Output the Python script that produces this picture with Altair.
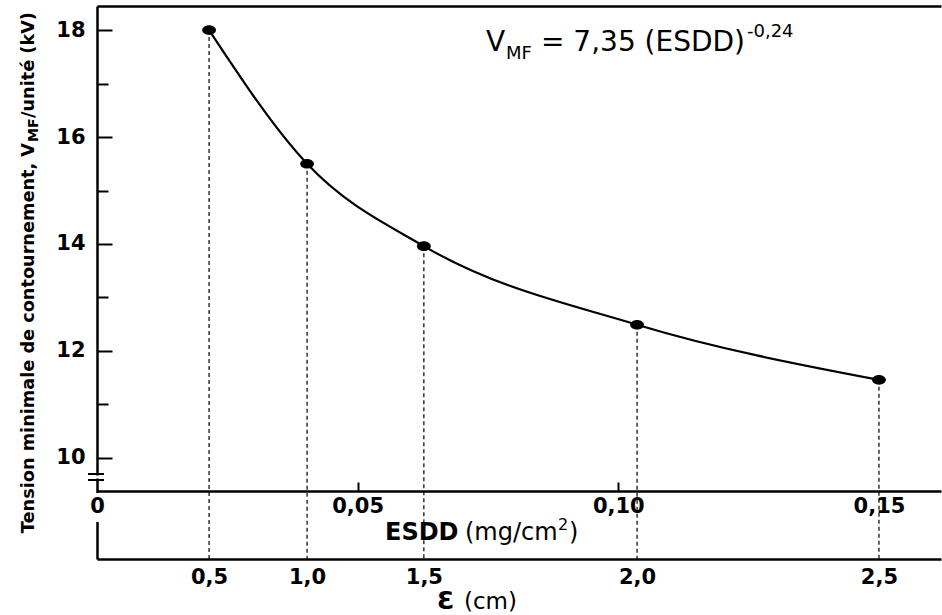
import altair as alt
import pandas as pd

# ---- data ----
eps_cm = [0.5, 1.0, 1.5, 2.0, 2.5]
eps_labels = ["0,5", "1,0", "1,5", "2,0", "2,5"]
esdd = [0.0215, 0.0403, 0.0627, 0.1036, 0.150]
v_mf = [18.0, 15.50, 13.96, 12.49, 11.46]
esdd_ticks = [0, 0.05, 0.10, 0.15]
esdd_tick_labels = ["0", "0,05", "0,10", "0,15"]
esdd_inner_ticks = [0.05, 0.10]
y_major = [10, 12, 14, 16, 18]
y_minor = [11, 13, 15, 17]

W, H = 844, 553
X_DOM = [0, 0.1619]
Y_DOM = [8.11, 18.45]
ESDD_AXIS_OFFSET = -68

LAB_FONT = "DejaVu Sans"
TXT_FONT = "DejaVu Sans"
TITLE_FONT = "DejaVu Sans"

df = pd.DataFrame({"esdd": esdd, "v": v_mf, "eps": eps_cm})
one = pd.DataFrame({"k": [0]})

xs = alt.Scale(domain=X_DOM, nice=False, zero=False)
ys = alt.Scale(domain=Y_DOM, nice=False, zero=False)


def label_expr(values, labels):
    expr = "'" + labels[-1] + "'"
    for i in range(len(values) - 2, -1, -1):
        mid = (values[i] + values[i + 1]) / 2
        expr = "datum.value < %g ? '%s' : (%s)" % (mid, labels[i], expr)
    return expr


lab = dict(labelFont=LAB_FONT, labelFontSize=21, labelFontWeight="bold",
           labelColor="black", labelFlush=False, labelOverlap=False,
           labelBound=False, grid=False, title=None)

# curve + ESDD axis + left labelled axis
curve = alt.Chart(df).mark_line(interpolate="monotone", color="black", strokeWidth=2.2).encode(
    x=alt.X("esdd:Q", scale=xs, axis=alt.Axis(
        orient="bottom", offset=ESDD_AXIS_OFFSET, values=esdd_ticks,
        labelExpr=label_expr(esdd_ticks, esdd_tick_labels), ticks=False, tickSize=0,
        domainColor="black", domainWidth=2.5, labelPadding=4, zindex=1, **lab)),
    y=alt.Y("v:Q", scale=ys, axis=alt.Axis(
        orient="left", values=y_major, format="d", ticks=False, tickSize=0,
        domainColor="black", domainWidth=2.5, labelPadding=12, **lab)),
)

# points + top border + inward major ticks
points = alt.Chart(df).mark_point(
    filled=True, opacity=1, color="black", size=190,
    shape="M-1,0A1,0.7,0,1,0,1,0A1,0.7,0,1,0,-1,0Z").encode(
    x=alt.X("esdd:Q", scale=xs, axis=alt.Axis(
        orient="top", labels=False, ticks=False, tickSize=0,
        domainColor="black", domainWidth=2.5, grid=False, title=None)),
    y=alt.Y("v:Q", scale=ys, axis=alt.Axis(
        orient="right", offset=-W, values=y_major, labels=False, domain=False,
        tickSize=15, tickWidth=2, tickColor="black", grid=False, title=None)),
)

# dashed drop lines + epsilon axis + inward minor ticks
drops = alt.Chart(df).mark_rule(strokeDash=[4, 3], strokeWidth=1.2, color="black").encode(
    x=alt.X("esdd:Q", scale=xs, axis=alt.Axis(
        orient="bottom", offset=0, values=esdd,
        labelExpr=label_expr(esdd, eps_labels), ticks=False, tickSize=0,
        domainColor="black", domainWidth=2.5, labelPadding=7, **lab)),
    y=alt.Y("v:Q", scale=ys, axis=alt.Axis(
        orient="right", offset=-W, values=y_minor, labels=False, domain=False,
        tickSize=11, tickWidth=2, tickColor="black", grid=False, title=None)),
    y2=alt.value(H),
)

# upward ticks on the ESDD axis
esdd_ticks_layer = alt.Chart(df).mark_point(opacity=0).encode(
    x=alt.X("esdd:Q", scale=xs, axis=alt.Axis(
        orient="top", offset=-(H + ESDD_AXIS_OFFSET), values=esdd_inner_ticks,
        labels=False, domain=False, tickSize=9, tickWidth=2, tickColor="black",
        grid=False, title=None)),
)

# axis break and gap on the left axis
mask_gap = alt.Chart(one).mark_rect(color="white").encode(
    x=alt.value(-10), x2=alt.value(8), y=alt.value(487), y2=alt.value(516))
mask_break = alt.Chart(one).mark_rect(color="white").encode(
    x=alt.value(-5), x2=alt.value(5), y=alt.value(469.5), y2=alt.value(472.5))
break1 = alt.Chart(one).mark_rule(color="black", strokeWidth=2).encode(
    x=alt.value(-9), x2=alt.value(7), y=alt.value(468))
break2 = alt.Chart(one).mark_rule(color="black", strokeWidth=2).encode(
    x=alt.value(-9), x2=alt.value(7), y=alt.value(474))


def txt(s, x, y, size, weight="normal", font=TXT_FONT, angle=0, align="left"):
    return alt.Chart(one).mark_text(
        text=s, fontSize=size, fontWeight=weight, font=font, angle=angle,
        align=align, baseline="alphabetic", color="black").encode(
        x=alt.value(x), y=alt.value(y))


# equation (page coords minus padding 97, 6)
eq = [
    txt("V", 389, 45, 28),
    txt("MF", 409, 53, 18),
    txt("= 7,35 (ESDD)", 444, 45, 28),
    txt("-0,24", 650, 31, 18),
]

# ESDD title
esdd_title = [
    txt("ESDD", 288, 534, 24, weight="bold"),
    txt("(mg/cm", 368, 534, 24),
    txt("2", 461, 524, 16),
    txt(")", 472, 534, 24),
]

# epsilon title
eps_title = [
    txt("Ɛ", 340, 603, 25, weight="bold"),
    txt("(cm)", 367, 603, 23),
]

# y title (rotated)
y_title = [
    txt("Tension minimale de contournement, V", -63, 137, 17.7, weight="bold",
        font=TITLE_FONT, angle=270, align="right"),
    txt("MF", -59, 136, 14, weight="bold", font=TITLE_FONT, angle=270, align="left"),
    txt("/unité (kV)", -63, 112, 17.7, weight="bold", font=TITLE_FONT, angle=270, align="left"),
]

layers = [drops, curve, points, esdd_ticks_layer, mask_gap, mask_break, break1, break2] \
    + eq + esdd_title + eps_title + y_title

chart = alt.layer(*layers).resolve_scale(x="independent", y="independent").properties(
    width=W, height=H,
    autosize=alt.AutoSizeParams(type="none"),
    padding={"left": 97, "top": 6, "right": 1, "bottom": 56},
    background="white",
).configure_view(stroke=None)

chart.save("out.html", embed_options={"renderer": "svg", "actions": False})
